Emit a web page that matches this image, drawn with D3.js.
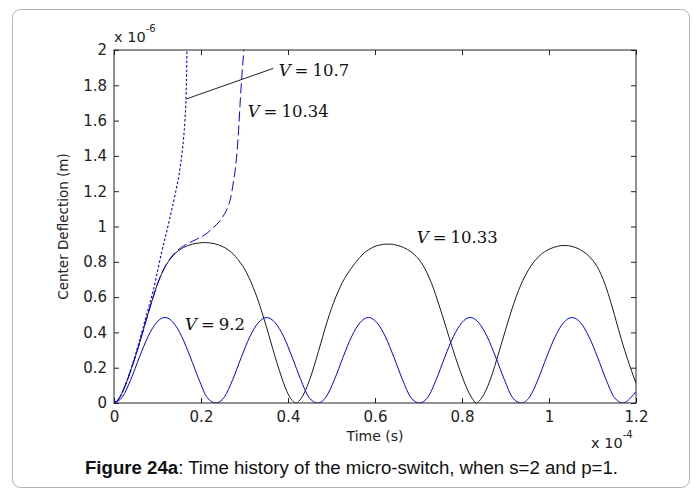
<!DOCTYPE html>
<html>
<head>
<meta charset="utf-8">
<script src="https://cdn.jsdelivr.net/npm/d3@7"></script>
<style>
  html, body { margin: 0; padding: 0; background: #fff; }
  svg { display: block; }
</style>
</head>
<body>
<svg id="chart" width="697" height="489"></svg>
<script>
// Time axis in units of 1e-4 s, deflection in units of 1e-6 m.
const xTicks = [0, 0.2, 0.4, 0.6, 0.8, 1, 1.2];
const yTicks = [0, 0.2, 0.4, 0.6, 0.8, 1, 1.2, 1.4, 1.6, 1.8, 2];

// V = 10.33 : bounded oscillation (solid black)
const seriesV1033 = [
  [0,0],[0.01,0.02],[0.02,0.065],[0.03,0.125],[0.04,0.195],[0.05,0.27],[0.06,0.35],[0.07,0.435],
  [0.08,0.52],[0.09,0.6],[0.10,0.675],[0.11,0.735],[0.12,0.782],[0.13,0.818],[0.14,0.846],
  [0.15,0.866],[0.16,0.881],[0.17,0.892],[0.18,0.9],[0.19,0.905],[0.20,0.908],[0.21,0.909],
  [0.22,0.907],[0.23,0.903],[0.24,0.896],[0.25,0.886],[0.26,0.872],[0.27,0.853],[0.28,0.828],
  [0.29,0.797],[0.30,0.76],[0.31,0.712],[0.32,0.655],[0.33,0.59],[0.34,0.515],[0.35,0.435],
  [0.36,0.35],[0.37,0.265],[0.38,0.185],[0.39,0.112],[0.40,0.052],[0.41,0.014],[0.419,0],
  [0.425,0.01],[0.435,0.045],[0.445,0.1],[0.455,0.17],[0.465,0.25],[0.475,0.335],[0.485,0.42],
  [0.495,0.5],[0.505,0.57],[0.515,0.63],[0.525,0.683],[0.535,0.725],[0.545,0.762],[0.555,0.795],
  [0.565,0.825],[0.575,0.85],[0.585,0.868],[0.595,0.882],[0.605,0.892],[0.615,0.897],[0.625,0.9],
  [0.635,0.9],[0.645,0.897],[0.655,0.891],[0.665,0.882],[0.675,0.869],[0.685,0.852],[0.695,0.83],
  [0.705,0.8],[0.715,0.76],[0.725,0.708],[0.735,0.645],[0.745,0.572],[0.755,0.495],[0.765,0.415],
  [0.775,0.335],[0.785,0.258],[0.795,0.187],[0.805,0.12],[0.815,0.062],[0.825,0.02],[0.832,0],
  [0.84,0.012],[0.85,0.048],[0.86,0.1],[0.87,0.168],[0.88,0.248],[0.89,0.33],[0.90,0.413],
  [0.91,0.495],[0.92,0.57],[0.93,0.638],[0.94,0.695],[0.95,0.742],[0.96,0.782],[0.97,0.813],
  [0.98,0.838],[0.99,0.857],[1.00,0.871],[1.01,0.881],[1.02,0.888],[1.03,0.892],[1.04,0.892],
  [1.05,0.889],[1.06,0.882],[1.07,0.871],[1.08,0.856],[1.09,0.836],[1.10,0.81],[1.11,0.775],
  [1.12,0.727],[1.13,0.664],[1.14,0.588],[1.15,0.503],[1.16,0.415],[1.17,0.33],[1.18,0.253],
  [1.19,0.18],[1.20,0.112]
];

// V = 9.2 : small-amplitude oscillation (solid blue)
const seriesV92 = [
  [0,0],[0.0195,0.035],[0.039,0.135],[0.0585,0.26],[0.078,0.375],[0.0975,0.455],[0.117,0.485],
  [0.1365,0.455],[0.156,0.375],[0.1755,0.26],[0.195,0.135],[0.2145,0.03],[0.234,0],
  [0.2535,0.033],[0.273,0.133],[0.2925,0.258],[0.312,0.374],[0.3315,0.454],[0.351,0.484],
  [0.3705,0.455],[0.39,0.376],[0.4095,0.26],[0.429,0.134],[0.4485,0.031],[0.468,0],
  [0.4875,0.034],[0.507,0.134],[0.5265,0.259],[0.546,0.375],[0.5655,0.455],[0.585,0.485],
  [0.6045,0.455],[0.624,0.375],[0.6435,0.259],[0.663,0.134],[0.6825,0.031],[0.702,0],
  [0.7215,0.033],[0.741,0.134],[0.7605,0.26],[0.78,0.375],[0.7995,0.455],[0.819,0.485],
  [0.8385,0.455],[0.858,0.375],[0.8775,0.26],[0.897,0.135],[0.9165,0.03],[0.936,0],
  [0.9555,0.034],[0.975,0.135],[0.9945,0.26],[1.014,0.375],[1.0335,0.455],[1.053,0.484],
  [1.0725,0.455],[1.092,0.375],[1.1115,0.26],[1.131,0.134],[1.1505,0.031],[1.17,0],
  [1.1895,0.034],[1.2,0.065]
];

// V = 10.34 : escapes after the first swing (dashed blue)
const seriesV1034 = [
  [0,0],[0.01,0.02],[0.02,0.065],[0.03,0.125],[0.04,0.195],[0.05,0.27],[0.06,0.35],[0.07,0.435],
  [0.08,0.52],[0.09,0.6],[0.10,0.675],[0.11,0.736],[0.12,0.784],[0.13,0.822],[0.14,0.851],
  [0.15,0.873],[0.16,0.89],[0.17,0.904],[0.18,0.916],[0.19,0.928],[0.20,0.94],[0.21,0.955],
  [0.22,0.975],[0.23,0.998],[0.24,1.022],[0.25,1.055],[0.26,1.1],[0.268,1.16],[0.275,1.26],
  [0.28,1.35],[0.284,1.46],[0.287,1.57],[0.29,1.7],[0.293,1.82],[0.296,1.92],[0.3,2.03]
];

// V = 10.7 : immediate pull-in (dotted blue)
const seriesV107 = [
  [0,0],[0.01,0.02],[0.02,0.066],[0.03,0.128],[0.04,0.2],[0.05,0.28],[0.06,0.365],[0.07,0.455],
  [0.08,0.545],[0.09,0.635],[0.10,0.745],[0.11,0.86],[0.12,0.96],[0.13,1.065],[0.14,1.175],
  [0.15,1.3],[0.156,1.41],[0.16,1.5],[0.163,1.6],[0.1655,1.72],[0.1665,1.82],[0.1672,1.92],
  [0.1678,2.03]
];

// Curve labels: [time, deflection] of the text start, plus the numeric part of the label
const labelTexts = ["10.7", "10.34", "10.33", "9.2"];
const labelAnchors = [[0.3785, 1.852], [0.3073, 1.623], [0.6959, 0.906], [0.1632, 0.414]];
// Leader line from the V = 10.7 curve to its label
const leaderLine = [[0.1655, 1.722], [0.3662, 1.896]];

const svg = d3.select("#chart");
const plot = { left: 114, right: 636, top: 50, bottom: 403 };

// Card frame
svg.append("rect")
  .attr("x", 12.5).attr("y", 9.5)
  .attr("width", 677).attr("height", 478)
  .attr("rx", 8).attr("ry", 8)
  .attr("fill", "#fff").attr("stroke", "#b3b3b3").attr("stroke-width", 1);

const x = d3.scaleLinear().domain([0, 1.2]).range([plot.left, plot.right]);
const y = d3.scaleLinear().domain([0, 2]).range([plot.bottom, plot.top]);

const tickFont = "'DejaVu Sans', sans-serif";
const axisColor = "#222";

function styleAxis(g) {
  g.select(".domain").remove();
  g.selectAll(".tick line").attr("stroke", axisColor).attr("stroke-width", 1);
  g.selectAll(".tick text").attr("fill", "#222").style("font-family", tickFont).style("font-size", "15px");
}

// Bottom axis with labels, inward ticks
svg.append("g")
  .attr("transform", `translate(0,${plot.bottom})`)
  .call(d3.axisBottom(x).tickValues(xTicks).tickSize(-5).tickPadding(8).tickFormat(d3.format("~g")))
  .call(styleAxis);

// Top axis, ticks only
svg.append("g")
  .attr("transform", `translate(0,${plot.top})`)
  .call(d3.axisTop(x).tickValues(xTicks).tickSize(-5).tickFormat(""))
  .call(styleAxis);

// Left axis with labels
svg.append("g")
  .attr("transform", `translate(${plot.left},0)`)
  .call(d3.axisLeft(y).tickValues(yTicks).tickSize(-5).tickPadding(7).tickFormat(d3.format("~g")))
  .call(styleAxis);

// Right axis, ticks only
svg.append("g")
  .attr("transform", `translate(${plot.right},0)`)
  .call(d3.axisRight(y).tickValues(yTicks).tickSize(-5).tickFormat(""))
  .call(styleAxis);

// Clip region for the curves
svg.append("defs").append("clipPath").attr("id", "plotClip")
  .append("rect")
  .attr("x", plot.left).attr("y", plot.top)
  .attr("width", plot.right - plot.left).attr("height", plot.bottom - plot.top);

const line = d3.line()
  .x(d => x(d[0]))
  .y(d => y(d[1]))
  .curve(d3.curveMonotoneX);

const curves = svg.append("g").attr("clip-path", "url(#plotClip)");

curves.append("path").datum(seriesV1033)
  .attr("d", line).attr("fill", "none").attr("stroke", "#1a1a1a").attr("stroke-width", 1);
curves.append("path").datum(seriesV92)
  .attr("d", line).attr("fill", "none").attr("stroke", "#0000ff").attr("stroke-width", 1);
curves.append("path").datum(seriesV1034)
  .attr("d", line).attr("fill", "none").attr("stroke", "#0000ff").attr("stroke-width", 1)
  .attr("stroke-dasharray", "10,4");
curves.append("path").datum(seriesV107)
  .attr("d", line).attr("fill", "none").attr("stroke", "#0000ff").attr("stroke-width", 1.1)
  .attr("stroke-dasharray", "2.5,2");

// Plot box
svg.append("rect")
  .attr("x", plot.left).attr("y", plot.top)
  .attr("width", plot.right - plot.left).attr("height", plot.bottom - plot.top)
  .attr("fill", "none").attr("stroke", axisColor).attr("stroke-width", 1);

// Leader line
svg.append("line")
  .attr("x1", x(leaderLine[0][0])).attr("y1", y(leaderLine[0][1]))
  .attr("x2", x(leaderLine[1][0])).attr("y2", y(leaderLine[1][1]))
  .attr("stroke", "#222").attr("stroke-width", 1);

// Curve labels "V = ..."
const labelFont = "'DejaVu Serif', serif";
labelTexts.forEach((txt, i) => {
  const t = svg.append("text")
    .attr("x", x(labelAnchors[i][0]))
    .attr("y", y(labelAnchors[i][1]))
    .attr("fill", "#111")
    .style("font-family", labelFont)
    .style("font-size", "16.5px");
  t.append("tspan").style("font-style", "italic").text("V");
  t.append("tspan").attr("dx", 4).text("=");
  t.append("tspan").attr("dx", 4).text(txt);
});

// Axis titles
svg.append("text")
  .attr("x", (plot.left + plot.right) / 2).attr("y", 441)
  .attr("text-anchor", "middle").attr("fill", "#222")
  .style("font-family", tickFont).style("font-size", "14px")
  .text("Time (s)");

svg.append("text")
  .attr("transform", `translate(68,${(plot.top + plot.bottom) / 2}) rotate(-90)`)
  .attr("text-anchor", "middle").attr("fill", "#222")
  .style("font-family", tickFont).style("font-size", "13.5px")
  .text("Center Deflection (m)");

// Exponent notes
function exponent(xPos, yBase, power) {
  const t = svg.append("text")
    .attr("x", xPos).attr("y", yBase).attr("fill", "#222")
    .style("font-family", tickFont).style("font-size", "14.5px");
  t.append("tspan").text("x 10");
  t.append("tspan").attr("dy", -10).style("font-size", "10px").text(power);
}
exponent(114, 42, "-6");
exponent(591, 448, "-4");

// Caption
const cap = svg.append("text")
  .attr("x", 85).attr("y", 474)
  .attr("fill", "#111")
  .attr("textLength", 533).attr("lengthAdjust", "spacingAndGlyphs")
  .style("font-family", "'Liberation Sans', Arial, sans-serif").style("font-size", "17.5px");
cap.append("tspan").style("font-weight", "bold").text("Figure 24a");
cap.append("tspan").text(": Time history of the micro-switch, when s=2 and p=1.");
</script>
</body>
</html>
